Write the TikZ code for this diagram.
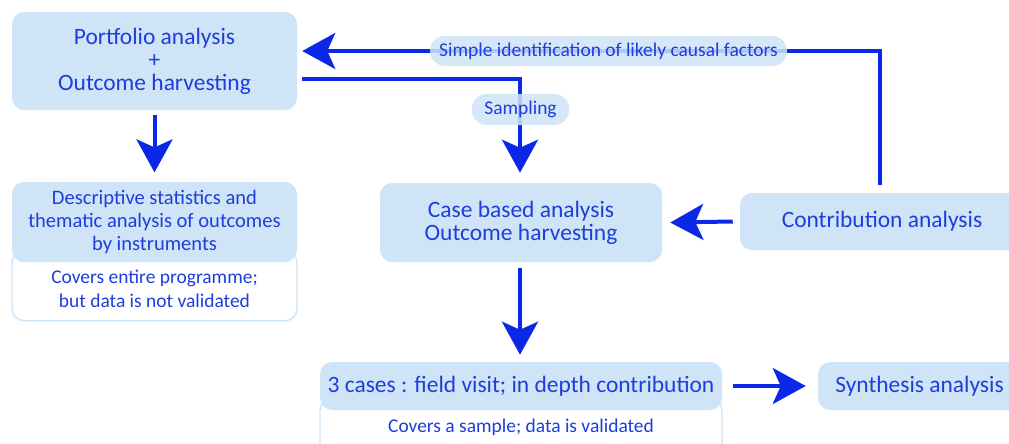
\documentclass[tikz,border=0pt]{standalone}
\usepackage{fontspec}
\setmainfont{Carlito}
\usetikzlibrary{arrows.meta}
\definecolor{boxfill}{RGB}{207,228,247}
\definecolor{boxtext}{RGB}{30,62,220}
\definecolor{flow}{RGB}{10,40,230}
\begin{document}
\begin{tikzpicture}[x=0.75pt,y=-0.75pt,
  box/.style={fill=boxfill, rounded corners=9pt, align=center, text=boxtext,
    inner sep=0pt, font=\fontsize{17.6}{17.25}\selectfont},
  notebox/.style={draw=boxfill, line width=1.1pt, fill=white, rounded corners=9pt,
    align=center, text=boxtext, inner sep=0pt},
  pill/.style={fill=boxfill, fill opacity=0.85, text opacity=1, rounded corners=11pt,
    text=boxtext, inner sep=0pt, font=\fontsize{14.6}{16}\selectfont},
  flowline/.style={draw=flow, line width=3pt},
  flowarrow/.style={flowline, -{Stealth[length=24.75pt, width=27pt, inset=6pt]}}
]
\useasboundingbox (0,0) rectangle (1009,443);
\clip (0,0) rectangle (1009,443);

% Left column
\node[box, minimum width=213.75pt, minimum height=73.5pt] (port) at (154.5,61)
  {Portfolio analysis\\+\\Outcome harvesting};
\node[notebox, minimum width=213.75pt, minimum height=52.5pt, anchor=north] (portnote) at (154.5,250) {};
\node[box, minimum width=213.75pt, minimum height=60pt,
  font=\fontsize{15.4}{16.9}\selectfont] (desc) at (154.5,222)
  {Descriptive statistics and\\thematic analysis of outcomes\\by instruments};
\node[text=boxtext, align=center, font=\fontsize{14.6}{18}\selectfont] (desctxt) at (154.5,289)
  {Covers entire programme;\\but data is not validated};

% Middle column
\node[box, minimum width=211.5pt, minimum height=59.25pt] (case) at (521,222.5)
  {Case based analysis\\Outcome harvesting};
\node[notebox, minimum width=301.5pt, minimum height=45pt, anchor=north] (casesnote) at (521,398) {};
\node[box, minimum width=301.5pt, minimum height=36pt] (cases) at (521,386)
  {3 cases : field visit; in depth contribution};
\node[text=boxtext, font=\fontsize{14.6}{16}\selectfont] (casestxt) at (521,427)
  {Covers a sample; data is validated};

% Right column
\node[box, minimum width=213pt, minimum height=42.75pt] (contrib) at (882,221.5)
  {Contribution analysis};
\node[box, minimum width=152.25pt, minimum height=36pt] (synth) at (919.5,386)
  {Synthesis analysis};

% Bend points
\coordinate (topright) at (880,51);
\coordinate (sampbend) at (520,79);

% Connectors
\draw[flowarrow] ([yshift=-3.75pt]port.south) -- ([yshift=7pt]desc.north);
\draw[flowarrow] ([xshift=3.75pt]port.east |- sampbend) -- (sampbend) -- ([yshift=7.5pt]case.north -| sampbend);
\draw[flowarrow] ([yshift=6pt]contrib.north -| topright) -- (topright) -- ([xshift=3.75pt]port.east |- topright);
\draw[flowarrow] ([xshift=-5.25pt]contrib.west) -- ([xshift=6pt]case.east);
\draw[flowarrow] ([yshift=-4.5pt]case.south -| sampbend) -- ([yshift=5.25pt]cases.north -| sampbend);
\draw[flowarrow] ([xshift=8.25pt]cases.east) -- ([xshift=-9pt]synth.west);

% Labels sitting on the connectors
\node[pill, minimum width=267.75pt, minimum height=22.5pt] (causal) at (608.5,51)
  {Simple identification of likely causal factors};
\node[pill, minimum width=72.75pt, minimum height=23.25pt] (sampling) at (520.5,109.5)
  {Sampling};
\end{tikzpicture}
\end{document}
